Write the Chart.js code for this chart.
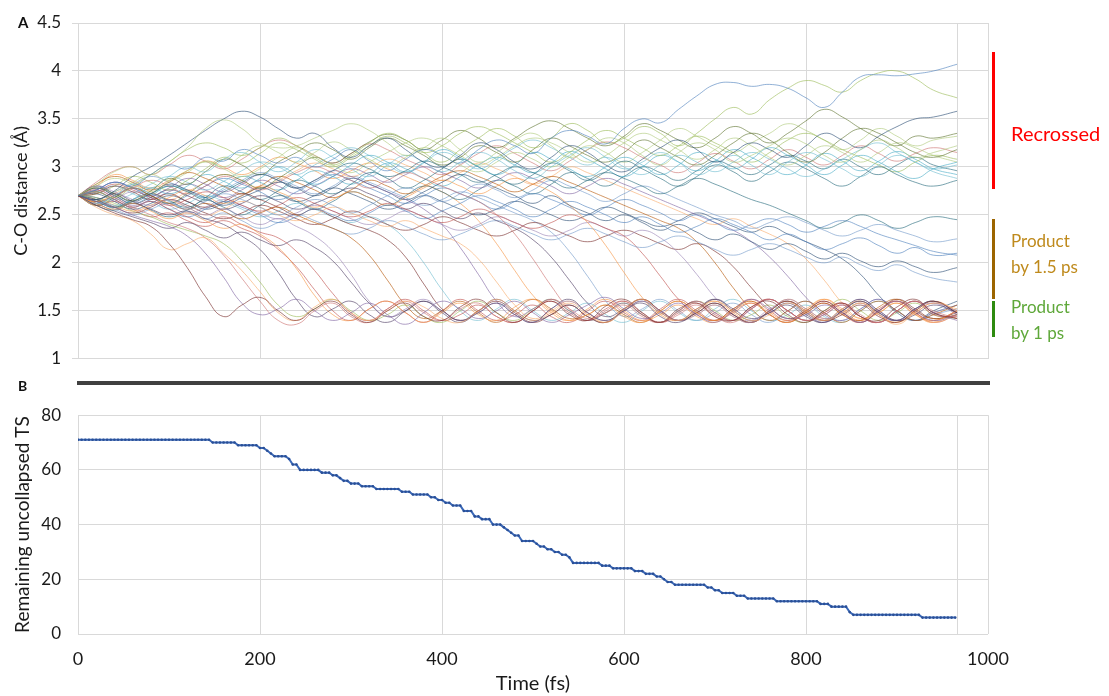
<!DOCTYPE html>
<html>
<head>
<meta charset="utf-8">
<script src="https://cdn.jsdelivr.net/npm/chart.js@4.4.0/dist/chart.umd.min.js"></script>
<style>
  body { margin: 0; background: #fff; font-family: Lato, sans-serif; }
  #wrap { position: relative; width: 1109px; height: 696px; overflow: hidden; }
  canvas { position: absolute; left: 0; }
  .lbl { position: absolute; white-space: nowrap; }
  .bar { position: absolute; width: 3px; }
</style>
</head>
<body>
<div id="wrap">
  <canvas id="chartA" width="1109" height="380" style="top:0"></canvas>
  <canvas id="chartB" width="1109" height="308" style="top:388px"></canvas>
  <div class="lbl" style="left:18px;top:13px;font-weight:bold;font-size:15px;color:#111">A</div>
  <div class="lbl" style="left:18px;top:377px;font-weight:bold;font-size:14px;color:#111">B</div>
  <div style="position:absolute;left:77px;top:381px;width:913px;height:4px;background:#404040"></div>
  <div class="bar" style="left:992px;top:52px;height:137px;background:#ff0000"></div>
  <div class="bar" style="left:992px;top:219px;height:80px;background:#9c6500"></div>
  <div class="bar" style="left:992px;top:301px;height:36px;background:#2e8b10"></div>
  <div class="lbl" style="left:1011px;top:119px;font-size:20px;line-height:28px;color:#ff0000">Recrossed</div>
  <div class="lbl" style="left:1011px;top:228px;font-size:17px;line-height:25.5px;color:#bf8a1c">Product<br>by 1.5 ps</div>
  <div class="lbl" style="left:1011px;top:294px;font-size:17px;line-height:26px;color:#5fa83a">Product<br>by 1 ps</div>
</div>
<script>
// time axis of the C-O trajectories (fs)
const trajTimes = [0,20,40,60,80,100,120,140,160,180,200,220,240,260,280,300,320,340,360,380,400,420,440,460,480,500,520,540,560,580,600,620,640,660,680,700,720,740,760,780,800,820,840,860,880,900,920,940,966];

// recrossed trajectories
const rec01 = [2.70,2.76,2.84,2.80,2.92,3.02,2.98,3.10,3.06,3.18, 3.12,3.04,3.10,3.00,3.08,3.18,3.06,2.96,3.08,3.18, 3.12,3.04,3.18,3.28,3.22,3.14,3.30,3.38,3.32,3.24, 3.40,3.50,3.46,3.60,3.74,3.86,3.88,3.84,3.86,3.82, 3.72,3.62,3.78,3.94,3.96,3.95,3.97,4.00,4.07];
const rec02 = [2.70,2.82,2.95,3.00,2.92,3.05,3.20,3.40,3.49,3.40, 3.25,3.20,3.22,3.30,3.38,3.45,3.38,3.25,3.12,3.20, 3.30,3.18,3.05,3.15,3.28,3.35,3.22,3.10,3.18,3.30, 3.25,3.12,3.02,3.15,3.25,3.18,3.05,3.12,3.22,3.30, 3.24,3.12,3.05,3.18,3.28,3.20,3.10,3.15,3.22];
const rec03 = [2.70,2.66,2.75,2.90,3.00,3.12,3.25,3.38,3.50,3.58, 3.52,3.40,3.30,3.35,3.20,3.10,3.22,3.30,3.18,3.05, 3.00,3.12,3.25,3.18,3.05,2.98,3.10,3.22,3.15,3.02, 2.95,3.08,3.20,3.28,3.18,3.05,3.15,3.25,3.18,3.10, 3.22,3.35,3.28,3.20,3.32,3.42,3.50,3.52,3.58];
const rec04 = [2.70,2.74,2.68,2.80,2.92,3.05,3.18,3.25,3.20,3.12, 3.20,3.30,3.22,3.10,3.02,3.12,3.25,3.35,3.28,3.15, 3.05,3.18,3.30,3.40,3.32,3.20,3.30,3.45,3.38,3.25, 3.30,3.42,3.35,3.22,3.35,3.50,3.62,3.55,3.70,3.82, 3.90,3.85,3.78,3.90,3.98,4.00,3.92,3.80,3.72];
const rec05 = [2.70,2.62,2.70,2.82,2.78,2.90,3.00,2.95,3.08,3.15, 3.05,2.95,3.05,3.18,3.10,2.98,2.90,3.02,3.12,3.05, 2.95,3.05,3.15,3.08,2.96,2.88,3.00,3.12,3.20,3.10, 2.98,3.05,3.15,3.05,2.92,3.00,3.12,3.02,2.92,3.05, 3.15,3.08,2.98,2.90,3.02,3.12,3.05,2.95,2.88];
const rec06 = [2.70,2.78,2.72,2.65,2.75,2.88,2.82,2.95,3.08,3.02, 2.92,3.05,3.15,3.25,3.18,3.08,3.20,3.30,3.22,3.12, 3.02,3.10,3.22,3.15,3.05,3.18,3.30,3.22,3.12,3.05, 3.15,3.28,3.20,3.10,3.02,3.12,3.25,3.35,3.28,3.15, 3.05,3.15,3.30,3.40,3.35,3.25,3.15,3.10,3.18];
const rec07 = [2.70,2.68,2.60,2.66,2.78,2.72,2.80,2.92,2.85,2.78, 2.88,3.00,2.92,2.82,2.90,3.02,3.12,3.05,2.95,3.05, 3.18,3.10,3.00,2.92,3.02,3.15,3.08,2.98,2.90,3.00, 3.10,3.02,2.92,3.02,3.15,3.08,2.98,3.08,3.20,3.12, 3.02,2.92,3.02,3.12,3.05,2.95,2.88,2.98,3.05];
const rec08 = [2.70,2.80,2.88,2.82,2.74,2.85,2.96,3.05,2.98,2.90, 2.98,3.10,3.20,3.12,3.02,2.94,3.05,3.15,3.25,3.30, 3.22,3.12,3.02,3.10,3.22,3.30,3.25,3.15,3.05,3.12, 3.25,3.35,3.28,3.18,3.08,3.18,3.30,3.22,3.10,3.02, 3.12,3.22,3.15,3.05,3.15,3.25,3.20,3.12,3.05];
const rec09 = [2.70,2.64,2.58,2.66,2.72,2.65,2.58,2.68,2.80,2.74, 2.66,2.75,2.86,2.80,2.72,2.82,2.94,2.88,2.78,2.86, 2.98,3.08,3.00,2.90,2.82,2.92,3.04,2.96,2.86,2.95, 3.06,2.98,2.88,2.80,2.90,3.02,2.95,2.85,2.95,3.05, 2.98,2.88,2.80,2.90,3.00,2.92,2.84,2.80,2.86];
const rec10 = [2.70,2.72,2.80,2.90,2.84,2.76,2.86,2.98,3.10,3.04, 3.14,3.25,3.18,3.08,3.00,3.10,3.22,3.32,3.25,3.15, 3.22,3.35,3.42,3.35,3.25,3.15,3.05,3.15,3.28,3.38, 3.30,3.20,3.12,3.22,3.32,3.25,3.15,3.05,3.15,3.28, 3.35,3.28,3.18,3.10,3.02,2.95,3.05,3.12,3.08];
const rec11 = [2.70,2.75,2.66,2.72,2.82,2.90,2.84,2.76,2.85,2.96, 3.05,3.00,2.92,3.02,3.12,3.20,3.12,3.02,2.94,3.04, 3.15,3.08,2.98,3.08,3.20,3.28,3.20,3.10,3.02,3.10, 3.00,2.92,3.02,3.12,3.05,2.95,3.05,3.15,3.08,2.98, 2.90,2.98,3.08,3.18,3.25,3.15,3.05,2.98,3.02];
const rec12 = [2.70,2.60,2.68,2.78,2.70,2.62,2.72,2.84,2.92,2.86, 2.78,2.88,3.00,3.10,3.04,3.14,3.26,3.34,3.28,3.18, 3.28,3.38,3.30,3.20,3.30,3.42,3.48,3.40,3.30,3.22, 3.32,3.45,3.38,3.28,3.20,3.30,3.42,3.35,3.25,3.35, 3.48,3.60,3.52,3.40,3.30,3.22,3.32,3.30,3.35];
const rec13 = [2.70,2.78,2.70,2.62,2.70,2.80,2.75,2.68,2.78,2.90, 2.84,2.76,2.86,2.96,2.90,2.82,2.92,3.04,2.98,2.88, 2.80,2.90,3.02,3.10,3.02,2.94,3.04,3.16,3.08,2.98, 2.90,3.00,3.12,3.05,2.96,3.06,3.18,3.10,3.00,2.92, 3.02,3.14,3.06,2.96,3.06,3.16,3.08,2.98,2.92];
const rec14 = [2.70,2.66,2.74,2.84,2.92,2.86,2.94,3.06,3.00,3.12, 3.22,3.15,3.05,3.15,3.26,3.18,3.08,3.00,3.10,3.20, 3.12,3.02,2.95,3.05,3.15,3.08,3.00,3.10,3.22,3.15, 3.05,3.15,3.28,3.40,3.32,3.22,3.15,3.25,3.35,3.45, 3.38,3.28,3.18,3.28,3.40,3.32,3.22,3.28,3.32];
const rec15 = [2.70,2.60,2.55,2.62,2.55,2.48,2.55,2.65,2.58,2.50, 2.60,2.70,2.64,2.56,2.64,2.74,2.68,2.60,2.70,2.80, 2.74,2.66,2.76,2.86,2.80,2.72,2.82,2.94,2.88,2.80, 2.90,3.00,2.94,2.86,2.96,3.06,3.00,2.92,3.02,3.12, 3.06,2.98,3.08,3.00,2.92,3.02,3.10,3.02,2.96];
const rec16 = [2.70,2.84,2.96,3.00,2.92,3.02,3.12,3.06,2.98,3.08, 3.20,3.28,3.22,3.12,3.04,3.14,3.24,3.18,3.08,3.00, 2.92,3.02,3.14,3.22,3.14,3.04,2.96,3.06,3.18,3.26, 3.20,3.10,3.02,2.94,3.04,3.14,3.06,2.98,3.08,3.18, 3.10,3.02,3.12,3.22,3.14,3.06,3.14,3.20,3.15];

// product by 1.5 ps
const slow01 = [2.70,2.66,2.58,2.64,2.72,2.80,2.74,2.66,2.74,2.84, 2.92,2.86,2.78,2.86,2.96,3.04,2.98,2.90,2.96,3.06, 3.00,2.92,2.84,2.92,3.00,2.94,2.86,2.78,2.86,2.94, 2.88,2.80,2.72,2.80,2.88,2.82,2.74,2.66,2.60,2.52, 2.44,2.36,2.42,2.50,2.44,2.36,2.42,2.48,2.45];
const slow02 = [2.70,2.62,2.70,2.78,2.72,2.64,2.56,2.64,2.72,2.66, 2.58,2.50,2.58,2.66,2.60,2.52,2.60,2.70,2.78,2.72, 2.64,2.72,2.82,2.76,2.68,2.76,2.86,2.80,2.72,2.64, 2.72,2.80,2.74,2.66,2.58,2.50,2.44,2.36,2.42,2.48, 2.42,2.34,2.28,2.34,2.40,2.34,2.28,2.22,2.25];
const slow03 = [2.70,2.74,2.66,2.58,2.64,2.56,2.48,2.56,2.64,2.58, 2.50,2.42,2.48,2.56,2.50,2.44,2.52,2.60,2.54,2.46, 2.54,2.62,2.70,2.64,2.56,2.48,2.56,2.64,2.58,2.50, 2.42,2.48,2.40,2.32,2.38,2.46,2.40,2.32,2.24,2.30, 2.22,2.14,2.20,2.26,2.18,2.10,2.16,2.08,2.10];
const slow04 = [2.70,2.80,2.72,2.64,2.72,2.82,2.76,2.68,2.60,2.68, 2.76,2.84,2.78,2.70,2.78,2.88,2.82,2.74,2.66,2.74, 2.84,2.92,2.86,2.78,2.70,2.62,2.70,2.60,2.52,2.44, 2.50,2.42,2.34,2.40,2.32,2.24,2.30,2.22,2.14,2.20, 2.12,2.04,2.10,2.02,1.96,2.02,1.96,1.90,1.95];
const slow05 = [2.70,2.64,2.56,2.50,2.56,2.62,2.54,2.46,2.52,2.44, 2.36,2.42,2.50,2.44,2.36,2.30,2.36,2.44,2.38,2.30, 2.24,2.30,2.38,2.44,2.38,2.30,2.24,2.30,2.36,2.30, 2.22,2.16,2.22,2.28,2.22,2.14,2.08,2.14,2.20,2.14, 2.06,2.00,2.06,1.98,1.92,1.98,1.90,1.84,1.80];
const slow06 = [2.70,2.76,2.84,2.78,2.70,2.62,2.70,2.80,2.88,2.82, 2.74,2.66,2.74,2.84,2.92,2.86,2.78,2.70,2.62,2.70, 2.78,2.72,2.64,2.56,2.64,2.72,2.66,2.58,2.50,2.58, 2.66,2.60,2.52,2.44,2.50,2.42,2.34,2.40,2.46,2.40, 2.32,2.38,2.44,2.38,2.30,2.24,2.18,2.12,2.08];

// product by 1 ps
const fast01 = [2.70,2.60,2.52,2.45,2.38,2.20,1.95,1.65,1.44,1.56, 1.64,1.50,1.40,1.52,1.60,1.46,1.38,1.50,1.58,1.44, 1.40,1.54,1.62,1.48,1.38,1.50,1.60,1.46,1.40,1.55, 1.62,1.48,1.38,1.52,1.58,1.44,1.40,1.54,1.60,1.46, 1.38,1.50,1.58,1.44,1.40,1.54,1.62,1.48,1.42];
const fast02 = [2.70,2.64,2.58,2.50,2.44,2.38,2.28,2.10,1.85,1.58, 1.46,1.52,1.62,1.50,1.40,1.48,1.58,1.46,1.36,1.48, 1.60,1.52,1.42,1.50,1.60,1.48,1.38,1.46,1.56,1.64, 1.52,1.42,1.48,1.58,1.46,1.38,1.50,1.62,1.52,1.42, 1.46,1.56,1.48,1.38,1.50,1.60,1.50,1.40,1.46];
const fast03 = [2.70,2.58,2.50,2.44,2.30,2.14,2.20,2.26,2.10,1.92, 1.70,1.48,1.40,1.54,1.62,1.48,1.40,1.50,1.60,1.54, 1.42,1.38,1.50,1.62,1.50,1.40,1.48,1.58,1.46,1.38, 1.52,1.62,1.48,1.40,1.50,1.60,1.50,1.40,1.46,1.58, 1.50,1.40,1.48,1.58,1.46,1.36,1.48,1.58,1.52];
const fast04 = [2.70,2.76,2.68,2.58,2.50,2.42,2.36,2.26,2.08,1.84, 1.60,1.40,1.36,1.50,1.58,1.44,1.38,1.52,1.60,1.48, 1.40,1.52,1.58,1.44,1.38,1.50,1.62,1.52,1.42,1.48, 1.56,1.44,1.38,1.50,1.60,1.48,1.40,1.52,1.62,1.50, 1.40,1.46,1.56,1.44,1.38,1.50,1.60,1.50,1.42];
const fast05 = [2.70,2.66,2.72,2.64,2.56,2.50,2.54,2.46,2.40,2.28, 2.14,1.90,1.62,1.44,1.52,1.60,1.46,1.38,1.50,1.60, 1.50,1.40,1.48,1.58,1.46,1.38,1.52,1.62,1.48,1.40, 1.50,1.58,1.44,1.38,1.50,1.62,1.52,1.42,1.48,1.56, 1.44,1.38,1.50,1.60,1.48,1.40,1.52,1.60,1.48];
const fast06 = [2.70,2.62,2.56,2.62,2.54,2.46,2.52,2.44,2.36,2.40, 2.30,2.16,1.94,1.66,1.46,1.40,1.52,1.60,1.48,1.38, 1.48,1.58,1.46,1.40,1.54,1.62,1.50,1.40,1.46,1.56, 1.44,1.38,1.50,1.60,1.48,1.40,1.50,1.58,1.46,1.38, 1.50,1.62,1.52,1.42,1.48,1.58,1.46,1.40,1.50];
const fast07 = [2.70,2.74,2.66,2.58,2.64,2.56,2.48,2.42,2.48,2.40, 2.32,2.26,2.12,1.92,1.68,1.48,1.40,1.52,1.62,1.50, 1.40,1.46,1.56,1.44,1.38,1.50,1.60,1.48,1.40,1.52, 1.60,1.46,1.38,1.48,1.58,1.46,1.40,1.54,1.62,1.50, 1.40,1.48,1.58,1.44,1.38,1.50,1.60,1.46,1.44];
const fast08 = [2.70,2.80,2.74,2.66,2.60,2.66,2.58,2.50,2.56,2.48, 2.40,2.46,2.38,2.28,2.12,1.88,1.60,1.44,1.52,1.62, 1.50,1.40,1.48,1.58,1.46,1.38,1.52,1.60,1.48,1.40, 1.50,1.60,1.50,1.40,1.46,1.56,1.44,1.38,1.50,1.62, 1.52,1.42,1.48,1.58,1.46,1.40,1.52,1.58,1.50];
const fast09 = [2.70,2.64,2.70,2.78,2.70,2.62,2.56,2.62,2.54,2.46, 2.52,2.58,2.50,2.42,2.36,2.26,2.08,1.82,1.56,1.42, 1.50,1.60,1.48,1.38,1.50,1.62,1.52,1.42,1.46,1.56, 1.46,1.38,1.50,1.60,1.48,1.40,1.52,1.60,1.46,1.38, 1.48,1.58,1.46,1.40,1.54,1.62,1.50,1.42,1.46];
const fast10 = [2.70,2.72,2.80,2.74,2.66,2.72,2.64,2.58,2.64,2.72, 2.66,2.58,2.50,2.56,2.48,2.40,2.34,2.24,2.06,1.78, 1.52,1.40,1.50,1.60,1.48,1.38,1.46,1.56,1.44,1.38, 1.52,1.62,1.50,1.40,1.48,1.58,1.46,1.38,1.50,1.60, 1.50,1.40,1.46,1.56,1.44,1.38,1.50,1.60,1.48];
const fast11 = [2.70,2.76,2.84,2.78,2.70,2.78,2.88,2.82,2.74,2.82, 2.92,2.86,2.78,2.86,2.96,2.90,2.82,2.74,2.66,2.56, 2.40,2.16,1.88,1.60,1.44,1.52,1.62,1.50,1.40,1.48, 1.58,1.46,1.38,1.50,1.60,1.48,1.40,1.52,1.62,1.50, 1.40,1.46,1.56,1.44,1.38,1.50,1.60,1.48,1.40];
const fast12 = [2.70,2.66,2.58,2.64,2.72,2.66,2.58,2.50,2.56,2.64, 2.58,2.50,2.44,2.50,2.58,2.52,2.44,2.38,2.44,2.36, 2.28,2.20,2.04,1.80,1.56,1.42,1.50,1.60,1.48,1.38, 1.50,1.62,1.50,1.40,1.46,1.56,1.44,1.38,1.50,1.60, 1.48,1.40,1.52,1.60,1.46,1.38,1.48,1.58,1.50];
const fast13 = [2.70,2.62,2.70,2.78,2.86,2.80,2.72,2.80,2.90,2.84, 2.76,2.84,2.94,3.00,2.94,2.86,2.78,2.86,2.94,2.88, 2.80,2.72,2.64,2.50,2.30,2.04,1.76,1.52,1.40,1.50, 1.60,1.48,1.38,1.46,1.56,1.44,1.38,1.52,1.62,1.50, 1.40,1.48,1.58,1.46,1.38,1.50,1.60,1.48,1.42];
const fast14 = [2.70,2.78,2.70,2.62,2.68,2.76,2.70,2.62,2.56,2.62, 2.70,2.64,2.56,2.62,2.70,2.78,2.72,2.64,2.56,2.62, 2.54,2.46,2.52,2.44,2.36,2.24,2.06,1.82,1.58,1.44, 1.52,1.62,1.50,1.40,1.48,1.58,1.46,1.38,1.50,1.60, 1.48,1.40,1.52,1.62,1.50,1.40,1.46,1.56,1.48];
const fast15 = [2.70,2.68,2.60,2.54,2.60,2.68,2.76,2.70,2.62,2.70, 2.80,2.74,2.66,2.58,2.66,2.74,2.68,2.60,2.68,2.78, 2.86,2.80,2.72,2.80,2.88,2.82,2.74,2.60,2.42,2.18, 1.90,1.64,1.46,1.40,1.52,1.60,1.48,1.38,1.50,1.62, 1.52,1.42,1.48,1.58,1.46,1.38,1.50,1.60,1.50];
const fast16 = [2.70,2.74,2.82,2.76,2.68,2.60,2.66,2.74,2.68,2.60, 2.54,2.60,2.68,2.62,2.54,2.48,2.54,2.62,2.56,2.48, 2.42,2.48,2.56,2.50,2.42,2.36,2.42,2.50,2.44,2.36, 2.28,2.10,1.86,1.62,1.46,1.40,1.52,1.62,1.50,1.40, 1.48,1.58,1.46,1.38,1.50,1.60,1.48,1.40,1.50];
const fast17 = [2.70,2.60,2.66,2.74,2.68,2.60,2.52,2.58,2.66,2.60, 2.52,2.46,2.52,2.60,2.54,2.46,2.40,2.46,2.54,2.48, 2.40,2.34,2.40,2.48,2.42,2.34,2.28,2.34,2.42,2.36, 2.28,2.34,2.26,2.10,1.88,1.64,1.46,1.40,1.52,1.60, 1.48,1.38,1.50,1.62,1.50,1.40,1.48,1.58,1.46];
const fast18 = [2.70,2.82,2.90,2.84,2.76,2.84,2.94,2.88,2.80,2.72, 2.80,2.90,2.84,2.76,2.68,2.76,2.86,2.80,2.72,2.80, 2.90,2.96,2.90,2.82,2.74,2.82,2.90,2.84,2.76,2.68, 2.60,2.52,2.44,2.36,2.22,2.00,1.74,1.52,1.40,1.50, 1.60,1.48,1.38,1.50,1.60,1.50,1.40,1.46,1.56];
const fast19 = [2.70,2.66,2.58,2.52,2.58,2.66,2.60,2.52,2.46,2.52, 2.60,2.54,2.46,2.40,2.46,2.54,2.48,2.40,2.34,2.40, 2.48,2.42,2.34,2.28,2.34,2.42,2.36,2.28,2.22,2.28, 2.34,2.28,2.20,2.14,2.20,2.12,1.96,1.74,1.54,1.42, 1.50,1.60,1.48,1.38,1.50,1.62,1.52,1.42,1.48];
const fast20 = [2.70,2.76,2.68,2.60,2.66,2.74,2.82,2.76,2.68,2.76, 2.86,2.80,2.72,2.80,2.90,2.98,2.92,2.84,2.92,3.00, 2.94,2.86,2.78,2.86,2.94,2.88,2.80,2.72,2.80,2.88, 2.82,2.74,2.66,2.58,2.50,2.42,2.34,2.22,2.06,1.86, 1.64,1.46,1.40,1.52,1.62,1.50,1.40,1.48,1.56];
const fast21 = [2.70,2.64,2.72,2.80,2.74,2.66,2.74,2.84,2.92,2.86, 2.78,2.86,2.96,3.04,2.98,2.90,2.98,3.08,3.02,2.94, 2.86,2.94,3.04,2.98,2.90,2.82,2.90,3.00,2.94,2.86, 2.78,2.70,2.62,2.54,2.46,2.40,2.46,2.38,2.30,2.20, 2.04,1.82,1.58,1.42,1.50,1.60,1.48,1.38,1.46];
const fast22 = [2.70,2.72,2.64,2.56,2.62,2.70,2.64,2.56,2.62,2.70, 2.78,2.72,2.64,2.70,2.78,2.72,2.64,2.56,2.62,2.70, 2.64,2.56,2.50,2.56,2.64,2.58,2.50,2.44,2.50,2.58, 2.52,2.44,2.38,2.44,2.52,2.46,2.38,2.32,2.38,2.30, 2.22,2.14,2.04,1.88,1.66,1.48,1.40,1.50,1.60];
const fast23 = [2.70,2.68,2.62,2.54,2.48,2.40,2.34,2.28,2.20,2.02, 1.80,1.56,1.44,1.52,1.62,1.50,1.40,1.46,1.56,1.44, 1.38,1.50,1.60,1.48,1.40,1.52,1.62,1.50,1.40,1.48, 1.58,1.46,1.38,1.50,1.60,1.50,1.40,1.46,1.56,1.44, 1.38,1.50,1.62,1.50,1.40,1.48,1.58,1.46,1.42];
const fast24 = [2.70,2.62,2.54,2.48,2.42,2.36,2.42,2.34,2.26,2.32, 2.24,2.18,2.24,2.16,2.02,1.80,1.58,1.44,1.50,1.60, 1.48,1.38,1.50,1.62,1.50,1.40,1.46,1.56,1.44,1.38, 1.50,1.60,1.48,1.40,1.52,1.62,1.50,1.40,1.48,1.58, 1.46,1.38,1.50,1.60,1.48,1.40,1.52,1.60,1.48];
const fast25 = [2.70,2.74,2.80,2.72,2.64,2.56,2.62,2.70,2.64,2.56, 2.48,2.54,2.62,2.56,2.48,2.42,2.48,2.40,2.24,2.00, 1.72,1.50,1.40,1.52,1.62,1.50,1.40,1.48,1.58,1.46, 1.38,1.50,1.60,1.48,1.40,1.52,1.62,1.50,1.40,1.46, 1.56,1.44,1.38,1.50,1.60,1.50,1.40,1.48,1.56];
const fast26 = [2.70,2.80,2.92,2.86,2.78,2.86,2.96,3.06,3.00,2.92, 3.00,3.10,3.04,2.96,2.88,2.96,3.04,2.98,2.90,2.82, 2.74,2.62,2.44,2.20,1.92,1.66,1.48,1.40,1.52,1.62, 1.50,1.40,1.46,1.56,1.44,1.38,1.50,1.60,1.48,1.40, 1.52,1.62,1.50,1.40,1.48,1.58,1.46,1.38,1.50];
const fast27 = [2.70,2.66,2.74,2.82,2.90,2.84,2.76,2.68,2.76,2.86, 2.94,2.88,2.80,2.72,2.80,2.90,2.84,2.76,2.68,2.60, 2.66,2.74,2.68,2.60,2.52,2.44,2.32,2.12,1.86,1.60, 1.44,1.52,1.62,1.50,1.40,1.48,1.58,1.46,1.38,1.50, 1.60,1.48,1.40,1.52,1.62,1.50,1.40,1.46,1.52];
const fast28 = [2.70,2.60,2.64,2.56,2.48,2.52,2.44,2.38,2.44,2.36, 2.28,2.14,1.96,1.72,1.50,1.40,1.52,1.60,1.48,1.38, 1.50,1.62,1.50,1.40,1.46,1.56,1.44,1.38,1.50,1.60, 1.48,1.40,1.52,1.62,1.50,1.40,1.48,1.58,1.46,1.38, 1.50,1.60,1.48,1.40,1.52,1.60,1.48,1.38,1.46];

// panel B: remaining uncollapsed TS (value holds from each time on)
const stepTimes  = [0,145,176,200,206,211,216,230,236,243,266,278,286,290,300,310,326,355,365,386,395,403,412,423,436,442,456,466,470,476,480,486,503,506,516,521,532,537,544,573,586,609,624,636,641,647,654,692,700,705,723,735,765,815,826,845,848,851,925];
const stepCounts = [71,70,69,68,67,66,65,64,62,60,59,58,57,56,55,54,53,52,51,50,49,48,47,45,43,42,40,39,38,37,36,34,33,32,31,30,29,28,26,25,24,23,22,21,20,19,18,17,16,15,14,13,12,11,10,9,8,7,6];
const sampleEvery = 4;   // fs between recorded frames
const lastFrame = 964;

const xGridFs = [0,200,400,600,800,966,1000];

// office 2007 style series colours
const palette = ['#4F81BD','#C0504D','#9BBB59','#8064A2','#4BACC6','#F79646','#2C4D75','#772C2A','#5F7530','#4D3B62','#276A7C','#B65708','#729ACA','#CD7371','#AFC97A','#9983B5','#6FBDD1','#F9AB6B'];
const GRID = '#d9d9d9';
const TXT = '#1a1a1a';

function fade(hex, a) {
  const n = parseInt(hex.slice(1), 16);
  return 'rgba(' + (n >> 16) + ',' + ((n >> 8) & 255) + ',' + (n & 255) + ',' + a + ')';
}

// mix the three groups so colours are spread like the original
const allTraj = [
  rec01, fast01, rec02, fast02, slow01, fast03, rec03, fast04, rec04, fast05,
  rec05, fast06, slow02, fast07, rec06, fast08, rec07, fast09, slow03, fast10,
  rec08, fast11, rec09, fast12, slow04, fast13, rec10, fast14, rec11, fast15,
  slow05, fast16, rec12, fast17, rec13, fast18, slow06, fast19, rec14, fast20,
  rec15, fast21, fast22, rec16, fast23, fast24, fast25, fast26, fast27, fast28
];

Chart.defaults.font.family = 'Lato, sans-serif';

const xTicks = s => { s.ticks = xGridFs.map(v => ({ value: v })); };

new Chart(document.getElementById('chartA'), {
  type: 'line',
  data: {
    datasets: allTraj.map((arr, i) => ({
      data: arr.map((v, j) => ({ x: trajTimes[j], y: v })),
      borderColor: fade(palette[(i * 7) % palette.length], 0.62),
      borderWidth: 1,
      pointRadius: 0,
      tension: 0.45,
      fill: false
    }))
  },
  options: {
    responsive: false,
    animation: false,
    events: [],
    layout: { padding: { top: 23, bottom: 18, left: 0, right: 121 } },
    plugins: { legend: { display: false }, tooltip: { enabled: false } },
    scales: {
      x: {
        type: 'linear', min: 0, max: 1000,
        afterBuildTicks: xTicks,
        ticks: { display: false },
        grid: { color: GRID, drawTicks: false },
        border: { display: false }
      },
      y: {
        min: 1, max: 4.5,
        ticks: { stepSize: 0.5, padding: 11, color: TXT, font: { size: 17 }, callback: v => String(Math.round(v * 10) / 10) },
        grid: { color: GRID, tickLength: 6 },
        border: { display: false },
        title: { display: true, text: 'C-O distance (Å)', color: TXT, font: { size: 18 }, padding: { top: 10, bottom: 0 } },
        afterFit: s => { s.width = 78; }
      }
    }
  }
});

const remaining = [];
for (let t = 0; t <= lastFrame; t += sampleEvery) {
  let k = 0;
  while (k + 1 < stepTimes.length && stepTimes[k + 1] <= t) k++;
  remaining.push({ x: t, y: stepCounts[k] });
}

new Chart(document.getElementById('chartB'), {
  type: 'line',
  data: {
    datasets: [{
      data: remaining,
      borderColor: '#3a68b8',
      borderWidth: 2,
      pointRadius: 1.3,
      pointBorderWidth: 0,
      pointBackgroundColor: '#2a4f96',
      tension: 0,
      fill: false
    }]
  },
  options: {
    responsive: false,
    animation: false,
    events: [],
    layout: { padding: { top: 13, bottom: 0, left: 0, right: 121 } },
    plugins: { legend: { display: false }, tooltip: { enabled: false } },
    scales: {
      x: {
        type: 'linear', min: 0, max: 1000,
        afterBuildTicks: xTicks,
        ticks: { padding: 14, color: TXT, font: { size: 18 }, callback: v => (v === 966 ? '' : v) },
        grid: { color: GRID, drawTicks: false },
        border: { display: false },
        title: { display: true, text: 'Time (fs)', color: TXT, font: { size: 20 }, padding: { top: 0, bottom: 0 } },
        afterFit: s => { s.height = 62; }
      },
      y: {
        min: 0, max: 80,
        ticks: { stepSize: 20, padding: 17, color: TXT, font: { size: 17 } },
        grid: { color: GRID, drawTicks: false },
        border: { display: false },
        title: { display: true, text: 'Remaining uncollapsed TS', color: TXT, font: { size: 19 }, padding: { top: 11, bottom: 0 } },
        afterFit: s => { s.width = 78; }
      }
    }
  }
});
</script>
</body>
</html>
